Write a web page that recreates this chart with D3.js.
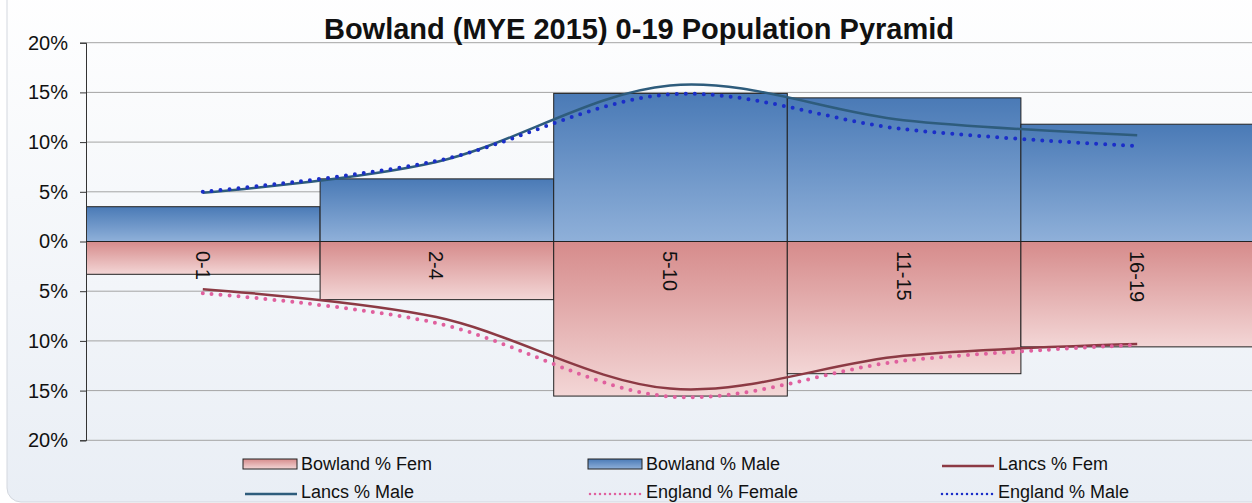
<!DOCTYPE html>
<html>
<head>
<meta charset="utf-8">
<script src="https://cdn.jsdelivr.net/npm/d3@7"></script>
<style>
  body { margin: 0; background: #fff; }
  text { font-family: Arial, "Liberation Sans", sans-serif; fill: #111; }
</style>
</head>
<body>
<svg></svg>
<script>
const width = 1252
const height = 503

const ageBands = ['0-1', '2-4', '5-10', '11-15', '16-19']
const bowlandFem = [3.3, 5.85, 15.55, 13.3, 10.6]
const bowlandMale = [3.5, 6.3, 14.9, 14.45, 11.8]
const lancsFem = [4.8, 7.6, 14.8, 11.5, 10.3]
const lancsMale = [4.9, 8.0, 15.7, 12.2, 10.7]
const englandFem = [5.2, 8.2, 15.6, 12.0, 10.4]
const englandMale = [5.0, 8.1, 14.8, 11.3, 9.6]
const yTicks = [-20, -15, -10, -5, 0, 5, 10, 15, 20]

const svg = d3.select('svg')
  .attr('width', width)
  .attr('height', height)

const defs = svg.append('defs')

function vGradient(id, top, bottom) {
  const grad = defs.append('linearGradient')
    .attr('id', id)
    .attr('x1', 0).attr('y1', 0).attr('x2', 0).attr('y2', 1)
  grad.append('stop').attr('offset', '0%').attr('stop-color', top)
  grad.append('stop').attr('offset', '100%').attr('stop-color', bottom)
}

vGradient('bg', '#ffffff', '#e9eef5')
vGradient('male', '#4a7ab6', '#8fb0d9')
vGradient('fem', '#d68b8b', '#f3d6d6')

// chart background
svg.append('rect')
  .attr('x', 7).attr('y', -20)
  .attr('width', width + 20).attr('height', height - 1 + 20)
  .attr('rx', 14)
  .attr('fill', 'url(#bg)')
  .attr('stroke', '#d3d7de')

const x = d3.scaleBand()
  .domain(ageBands)
  .range([86, 1254])

const y = d3.scaleLinear()
  .domain([-20, 20])
  .range([440.3, 42.7])

// gridlines
svg.append('g')
  .selectAll('line')
  .data(yTicks)
  .join('line')
    .attr('x1', 86)
    .attr('x2', width)
    .attr('y1', d => y(d))
    .attr('y2', d => y(d))
    .attr('stroke', '#a4a4a4')

// bars: females go below zero
svg.append('g')
  .selectAll('rect')
  .data(ageBands)
  .join('rect')
    .attr('x', d => x(d) + 0.5)
    .attr('width', x.bandwidth())
    .attr('y', y(0))
    .attr('height', (d, i) => y(-bowlandFem[i]) - y(0))
    .attr('fill', 'url(#fem)')
    .attr('stroke', '#222')

svg.append('g')
  .selectAll('rect')
  .data(ageBands)
  .join('rect')
    .attr('x', d => x(d) + 0.5)
    .attr('width', x.bandwidth())
    .attr('y', (d, i) => y(bowlandMale[i]))
    .attr('height', (d, i) => y(0) - y(bowlandMale[i]))
    .attr('fill', 'url(#male)')
    .attr('stroke', '#222')

// y axis
const yAxis = d3.axisLeft(y)
  .tickValues(yTicks)
  .tickSize(6)
  .tickFormat(d => Math.abs(d) + '%')

svg.append('g')
  .attr('transform', 'translate(86,0)')
  .call(yAxis)
  .call(g => g.select('.domain').attr('stroke', '#333'))
  .call(g => g.selectAll('.tick line').attr('stroke', '#333'))
  .call(g => g.selectAll('.tick text')
    .attr('x', -18)
    .attr('font-size', 20)
    .attr('font-family', 'Arial, "Liberation Sans", sans-serif')
    .attr('fill', '#111'))

svg.append('line')
  .attr('x1', 86).attr('x2', width)
  .attr('y1', y(0)).attr('y2', y(0))
  .attr('stroke', '#222')

// category labels, rotated, just under the zero line
svg.append('g')
  .selectAll('text')
  .data(ageBands)
  .join('text')
    .attr('transform', d => `translate(${x(d) + x.bandwidth() / 2},251) rotate(90)`)
    .attr('dy', '0.35em')
    .attr('font-size', 20)
    .text(d => d)

// smoothed lines
const line = d3.line()
  .x((d, i) => x(ageBands[i]) + x.bandwidth() / 2)
  .y(d => y(d))
  .curve(d3.curveCardinal.tension(0))

const series = [
  { name: 'Lancs % Fem', values: lancsFem.map(v => -v), color: '#8c3a44', dotted: false },
  { name: 'Lancs % Male', values: lancsMale, color: '#2e5c7c', dotted: false },
  { name: 'England % Female', values: englandFem.map(v => -v), color: '#e0609e', dotted: true },
  { name: 'England % Male', values: englandMale, color: '#1b2ec8', dotted: true }
]

svg.append('g')
  .selectAll('path')
  .data(series)
  .join('path')
    .attr('d', d => line(d.values))
    .attr('fill', 'none')
    .attr('stroke', d => d.color)
    .attr('stroke-width', d => d.dotted ? 4 : 2.5)
    .attr('stroke-linecap', d => d.dotted ? 'round' : 'butt')
    .attr('stroke-dasharray', d => d.dotted ? '0,9' : null)

// title
svg.append('text')
  .attr('x', 639)
  .attr('y', 39)
  .attr('text-anchor', 'middle')
  .attr('font-size', 29)
  .attr('font-weight', 'bold')
  .text('Bowland (MYE 2015) 0-19 Population Pyramid')

// legend
const legendItems = [
  { name: 'Bowland % Fem', type: 'rect', fill: 'url(#fem)', col: 0, row: 0 },
  { name: 'Bowland % Male', type: 'rect', fill: 'url(#male)', col: 1, row: 0 },
  { name: 'Lancs % Fem', type: 'line', color: '#8c3a44', col: 2, row: 0 },
  { name: 'Lancs % Male', type: 'line', color: '#2e5c7c', col: 0, row: 1 },
  { name: 'England % Female', type: 'dots', color: '#e0609e', col: 1, row: 1 },
  { name: 'England % Male', type: 'dots', color: '#1b2ec8', col: 2, row: 1 }
]
const colX = [243, 588, 940]
const rowY = [464, 492]

const legend = svg.append('g')
  .selectAll('g')
  .data(legendItems)
  .join('g')
    .attr('transform', d => `translate(${colX[d.col]},${rowY[d.row]})`)

legend.filter(d => d.type === 'rect')
  .append('rect')
    .attr('x', 0).attr('y', -5)
    .attr('width', 54).attr('height', 10)
    .attr('fill', d => d.fill)
    .attr('stroke', '#222')

legend.filter(d => d.type !== 'rect')
  .append('line')
    .attr('x1', 2).attr('x2', 54)
    .attr('y1', 2).attr('y2', 2)
    .attr('stroke', d => d.color)
    .attr('stroke-width', 2.5)
    .attr('stroke-linecap', d => d.type === 'dots' ? 'round' : 'butt')
    .attr('stroke-dasharray', d => d.type === 'dots' ? '0,5' : null)

legend.append('text')
  .attr('x', 58)
  .attr('dy', '0.35em')
  .attr('font-size', 18)
  .text(d => d.name)
</script>
</body>
</html>
